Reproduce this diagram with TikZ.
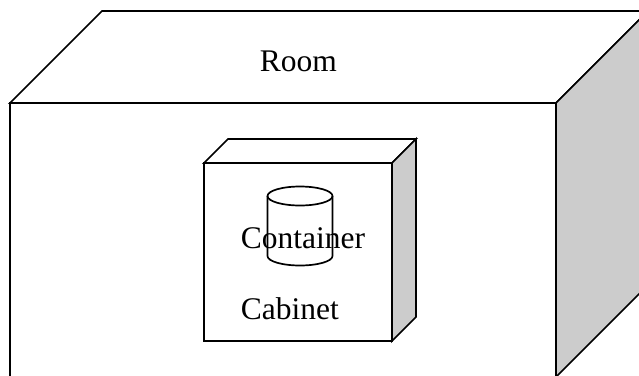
\documentclass[tikz,border=0pt]{standalone}
\usepackage{fontspec}
\setmainfont{Liberation Serif}
\definecolor{sidegray}{RGB}{204,204,204}
\begin{document}
\begin{tikzpicture}[x=1pt,y=-1pt, line width=1.7pt, line join=miter,
  face/.style={draw=black, fill=white},
  side/.style={draw=black, fill=sidegray},
  lbl/.style={inner sep=0pt, anchor=base west, font=\fontsize{31.5}{36}\selectfont}]
\useasboundingbox (0,0) rectangle (639,375);
\clip (0,0) rectangle (639,375);
% Room
\draw[face] (10,103) -- (102,11) -- (648,11) -- (556,103) -- cycle;
\draw[side] (556,103) -- (648,11) -- (648,285) -- (556,377) -- cycle;
\draw[face] (10,103) rectangle (556,377);
% Cabinet
\draw[face] (204,163) -- (228,139) -- (416,139) -- (392,163) -- cycle;
\draw[side] (392,163) -- (416,139) -- (416,317) -- (392,341) -- cycle;
\draw[face] (204,163) rectangle (392,341);
% Container (cylinder)
\draw (267.5,196) -- (267.5,256) arc[start angle=180, end angle=360, x radius=32.5, y radius=-9.5] -- (332.5,196);
\draw (300,196) ellipse[x radius=32.5, y radius=9.5];
% Labels
\node[lbl] (room) at (259,71) {Room};
\node[lbl] (container) at (240,248) {Container};
\node[lbl] (cabinet) at (240,319) {Cabinet};
\end{tikzpicture}
\end{document}
